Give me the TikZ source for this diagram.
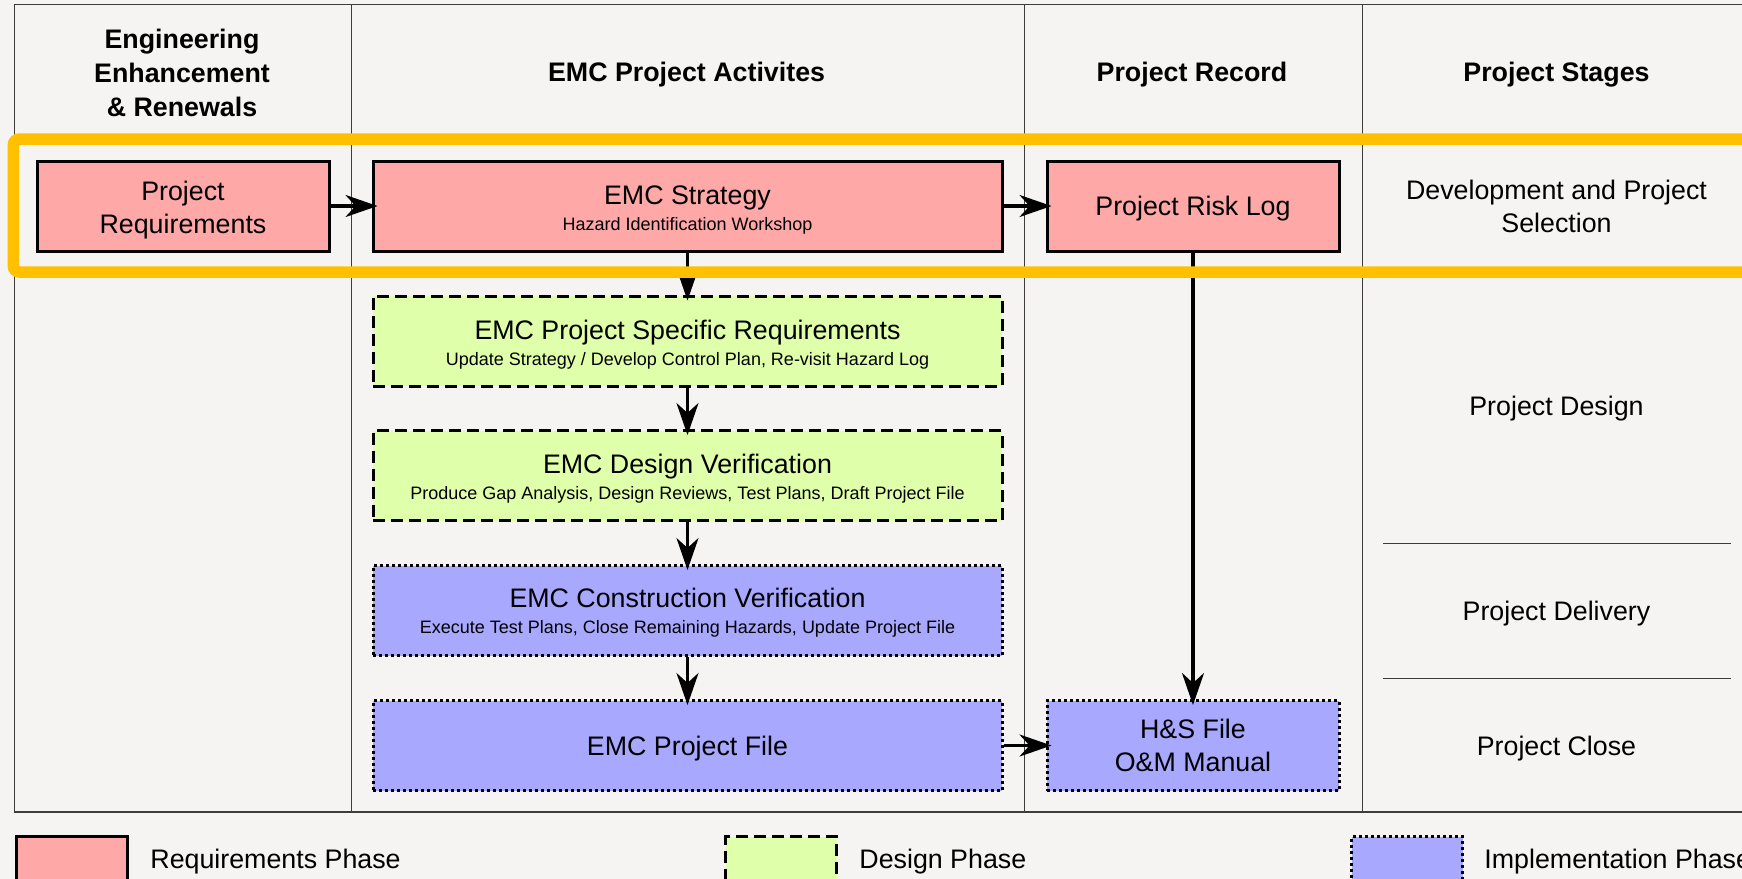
\documentclass[tikz,border=0pt]{standalone}
\usepackage{fontspec}
\setmainfont{Liberation Sans}
\usetikzlibrary{arrows.meta}
\definecolor{bgc}{RGB}{245,244,242}
\definecolor{reqc}{RGB}{255,168,168}
\definecolor{desc}{RGB}{224,255,170}
\definecolor{impc}{RGB}{168,168,255}
\definecolor{hilite}{RGB}{255,192,0}
\definecolor{gridc}{RGB}{60,60,60}
\newcommand\subtxt[1]{{\fontsize{9}{13}\selectfont #1}}
\newcommand\tstrut[1]{\rule{0pt}{#1}}
\begin{document}
\begin{tikzpicture}[x=0.5pt,y=-0.5pt,
  box/.style={draw=black, line width=1.5pt, minimum height=45pt, inner sep=0pt, align=center, font=\fontsize{13.4}{16.5}\selectfont},
  wide/.style={box, minimum width=314.5pt},
  narrow/.style={box, minimum width=146pt},
  twoline/.style={font=\fontsize{13.4}{13}\selectfont},
  oneline/.style={text height=12.4pt, text depth=2.84pt},
  reqbox/.style={fill=reqc},
  desbox/.style={fill=desc, dash pattern=on 6pt off 3pt},
  impbox/.style={fill=impc, dash pattern=on 1.5pt off 1.5pt},
  flow/.style={line width=1.6pt, -{Stealth[length=16pt,width=11pt,inset=5pt]}, shorten >=-3pt},
  hdr/.style={font=\fontsize{13.4}{17}\selectfont\bfseries, align=center},
  stage/.style={font=\fontsize{13.4}{16.5}\selectfont, align=center},
  grid/.style={draw=gridc, line width=0.6pt},
  legtxt/.style={font=\fontsize{13.4}{16}\selectfont, anchor=west, inner sep=0pt, oneline},
  legbox/.style={box, minimum width=55.5pt, minimum height=35pt, anchor=north west},
]
\useasboundingbox (0,0) rectangle (1742,879);
\clip (0,0) rectangle (1742,879);
\fill[bgc] (0,0) rectangle (1742,879);

% table
\draw[grid] (1760,4.5) -- (14.5,4.5) -- (14.5,812) -- (1760,812);
\draw[grid] (351.3,4.5) -- (351.3,812);
\draw[grid] (1024.3,4.5) -- (1024.3,812);
\draw[grid] (1362.5,4.5) -- (1362.5,812);
\draw[grid] (1383,543.3) -- (1731,543.3);
\draw[grid] (1383,678.3) -- (1731,678.3);

% headers
\node[hdr] (h1) at (182,72) {\tstrut{11pt}Engineering\\Enhancement\\\& Renewals};
\node[hdr, oneline] (h2) at (686.6,72) {EMC Project Activites};
\node[hdr, oneline] (h3) at (1192,72) {Project Record};
\node[hdr, oneline] (h4) at (1556.5,72) {Project Stages};

% stages
\node[stage] (s1) at (1556.5,206.6) {Development and Project\\Selection};
\node[stage, oneline] (s2) at (1556.5,405.5) {Project Design};
\node[stage, oneline] (s3) at (1556.5,611) {Project Delivery};
\node[stage, oneline] (s4) at (1556.5,746) {Project Close};

% boxes
\node[narrow, reqbox] (pr) at (183,206) {\tstrut{14pt}Project\\Requirements};
\node[wide, reqbox, twoline] (es) at (687.5,206) {\tstrut{13pt}EMC Strategy\\\subtxt{Hazard Identification Workshop}};
\node[narrow, reqbox, oneline] (rl) at (1193,206) {Project Risk Log};
\node[wide, desbox, twoline] (psr) at (687.5,341) {\tstrut{13pt}EMC Project Specific Requirements\\\subtxt{Update Strategy / Develop Control Plan, Re-visit Hazard Log}};
\node[wide, desbox, twoline] (dv) at (687.5,475.5) {\tstrut{13pt}EMC Design Verification\\\subtxt{Produce Gap Analysis, Design Reviews, Test Plans, Draft Project File}};
\node[wide, impbox, twoline] (cv) at (687.5,610.5) {\tstrut{12pt}EMC Construction Verification\\\subtxt{Execute Test Plans, Close Remaining Hazards, Update Project File}};
\node[wide, impbox, oneline] (pf) at (687.5,745.5) {EMC Project File};
\node[narrow, impbox] (hs) at (1193,745.5) {H\&S File\\O\&M Manual};

% arrows
\draw[flow] (pr) -- (es);
\draw[flow] (es) -- (rl);
\draw[flow] (es) -- (psr);
\draw[flow] (psr) -- (dv);
\draw[flow] (dv) -- (cv);
\draw[flow] (cv) -- (pf);
\draw[flow] (rl) -- (hs);
\draw[flow] (pf) -- (hs);

% highlight
\draw[draw=hilite, line width=5.75pt, rounded corners=3pt] (13.4,139) rectangle (1760,272);

% legend
\node[legbox, reqbox] (lreq) at (14.5,835) {};
\node[legbox, desbox] (ldes) at (724,835) {};
\node[legbox, impbox] (limp) at (1350,835) {};
\node[legtxt] (treq) at (150,859) {Requirements Phase};
\node[legtxt] (tdes) at (859,859) {Design Phase};
\node[legtxt] (timp) at (1484,859) {Implementation Phase};
\end{tikzpicture}
\end{document}
